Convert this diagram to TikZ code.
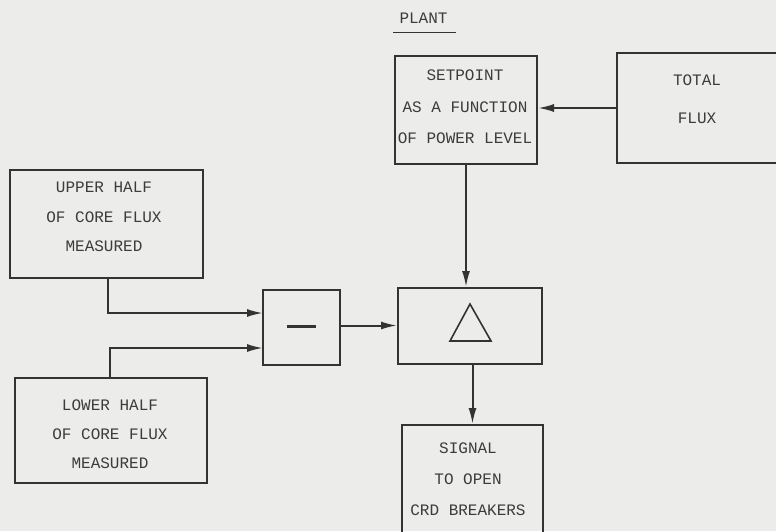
\documentclass[tikz,border=0pt]{standalone}
\usepackage{fontspec}
\setmonofont{Liberation Mono}
\usetikzlibrary{arrows.meta,calc}
\definecolor{bgc}{HTML}{ECECEA}
\definecolor{inkc}{HTML}{333333}
\definecolor{txtc}{HTML}{3C3C3C}
\tikzset{
  box/.style={draw=inkc, line width=2pt, minimum width=#1, inner sep=0pt},
  lbl/.style={text=txtc, font=\ttfamily\fontsize{16}{30}\selectfont, align=center, inner sep=0pt},
  arr/.style={draw=inkc, line width=2pt, -{Latex[length=16pt,width=8pt]}},
  ln/.style={draw=inkc, line width=2.6pt}
}
\begin{document}
\begin{tikzpicture}[x=1pt,y=-1pt]
\fill[bgc] (0,0) rectangle (776,531);
\useasboundingbox (0,0) rectangle (776,531);
\clip (0,0) rectangle (776,531);
% boxes
\node[box=142pt, minimum height=108pt] (sp) at (466,110) {};
\node[box=173pt, minimum height=110pt] (tf) at (703.5,108) {};
\node[box=193pt, minimum height=108pt] (up) at (106.5,224) {};
\node[box=192pt, minimum height=105pt] (lo) at (111,430.5) {};
\node[box=77pt, minimum height=75pt] (mn) at (301.5,327.5) {};
\node[box=144pt, minimum height=76pt] (dl) at (470,326) {};
\node[box=141pt, minimum height=135pt] (sg) at (472.5,492.5) {};
% texts
\node[lbl] (plant) at (423.5,18) {PLANT};
\draw[draw=inkc, line width=1pt] (plant.south west) ++(-6,9) coordinate (pu1) -- ($(plant.south east)+(8,9)$) coordinate (pu2);
\node[lbl, font=\ttfamily\fontsize{16}{31.5}\selectfont] (spt) at (465,107) {SETPOINT\\AS A FUNCTION\\OF POWER LEVEL};
\node[lbl, font=\ttfamily\fontsize{16}{38}\selectfont] (tft) at (697,99) {TOTAL\\FLUX};
\node[lbl, font=\ttfamily\fontsize{16}{29.5}\selectfont] (upt) at (104,217) {UPPER HALF\\OF CORE FLUX\\MEASURED};
\node[lbl, font=\ttfamily\fontsize{16}{29}\selectfont] (lot) at (110,434) {LOWER HALF\\OF CORE FLUX\\MEASURED};
\node[lbl, font=\ttfamily\fontsize{16}{31}\selectfont] (sgt) at (468,479) {SIGNAL\\TO OPEN\\CRD BREAKERS};
% symbols
\draw[ln] ($(mn.center)+(-15,-1)$) -- ($(mn.center)+(14,-1)$);
\draw[draw=inkc, line width=1.6pt] ($(dl.center)+(0,-22)$) -- ($(dl.center)+(21,15)$) -- ($(dl.center)+(-20,15)$) -- cycle;
% connectors
\coordinate (in1) at (263,313);
\coordinate (in2) at (263,348);
\draw[arr] (tf.west) -- (tf.west -| sp.east);
\draw[arr] (up.south) ++(1.5,0) coordinate (ups) |- (in1);
\draw[arr] (lo.north) ++(-1,0) coordinate (lon) |- (in2);
\draw[arr] (mn.east) ++(0,-2) coordinate (mne) -- (mne -| dl.west);
\draw[arr] (sp.south) -- (sp.south |- dl.north);
\draw[arr] (sg.north |- dl.south) -- (sg.north);
\end{tikzpicture}
\end{document}
